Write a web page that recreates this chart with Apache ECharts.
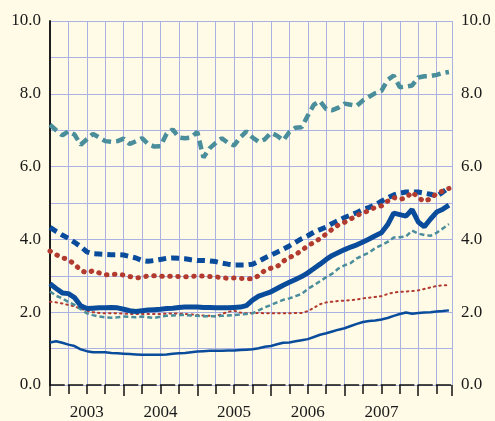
<!DOCTYPE html>
<html>
<head>
<meta charset="utf-8">
<script src="https://cdn.jsdelivr.net/npm/echarts@6/dist/echarts.min.js"></script>
<style>
  html, body { margin: 0; padding: 0; background: #fffbe7; }
  #chart { width: 495px; height: 421px; }
</style>
</head>
<body>
<div id="chart"></div>
<script>
// monthly observations, Jan 2003 .. Jun 2008 (index 0 = Jan 2003)
var years = ['2003', '2004', '2005', '2006', '2007'];
var yTicks = [0, 2, 4, 6, 8, 10];

var tealThick = [7.15, 7.0, 6.86, 6.97, 6.88, 6.6, 6.75, 6.9, 6.8, 6.7, 6.68, 6.7,
    6.77, 6.62, 6.7, 6.78, 6.62, 6.55, 6.56, 6.9, 7.02, 6.8, 6.78, 6.8,
    6.95, 6.25, 6.5, 6.65, 6.78, 6.65, 6.58, 6.8, 6.97, 6.8, 6.68, 6.75,
    6.93, 6.85, 6.72, 6.95, 7.07, 7.08, 7.4, 7.7, 7.8, 7.58, 7.55, 7.62,
    7.73, 7.7, 7.67, 7.82, 7.92, 8.02, 8.08, 8.38, 8.5, 8.18, 8.2, 8.23,
    8.45, 8.48, 8.49, 8.52, 8.57, 8.6];
var blueDashed = [4.33, 4.22, 4.12, 4.03, 3.92, 3.8, 3.66, 3.61, 3.6, 3.59, 3.58, 3.58,
    3.57, 3.53, 3.49, 3.42, 3.4, 3.42, 3.45, 3.48, 3.49, 3.48, 3.47, 3.44,
    3.42, 3.42, 3.41, 3.39, 3.35, 3.32, 3.3, 3.3, 3.3, 3.32, 3.4, 3.49,
    3.57, 3.65, 3.73, 3.82, 3.92, 4.02, 4.1, 4.2, 4.27, 4.34, 4.44, 4.52,
    4.6, 4.67, 4.74, 4.82, 4.88, 4.95, 5.05, 5.14, 5.22, 5.27, 5.3, 5.3,
    5.3, 5.27, 5.24, 5.19, 5.3, 5.43];
var redDotted = [3.68, 3.58, 3.5, 3.44, 3.32, 3.15, 3.08, 3.14, 3.08, 3.03, 3.03, 3.05,
    3.02, 2.98, 2.94, 2.96, 3.0, 3.0, 2.99, 2.99, 2.99, 2.98, 2.97, 2.98,
    3.0, 2.99, 2.98, 2.97, 2.95, 2.93, 2.94, 2.93, 2.92, 2.92, 3.0, 3.15,
    3.21, 3.25, 3.4, 3.5, 3.58, 3.7, 3.82, 3.92, 4.02, 4.15, 4.28, 4.4,
    4.47, 4.56, 4.66, 4.72, 4.8, 4.88, 4.92, 5.05, 5.15, 5.1, 5.14, 5.3,
    5.15, 5.04, 5.12, 5.26, 5.33, 5.4];
var blueThick = [2.78, 2.65, 2.53, 2.51, 2.4, 2.18, 2.1, 2.11, 2.12, 2.12, 2.13, 2.12,
    2.08, 2.04, 2.02, 2.04, 2.06, 2.07, 2.08, 2.1, 2.11, 2.13, 2.14, 2.14,
    2.14, 2.13, 2.13, 2.12, 2.12, 2.12, 2.13, 2.14, 2.18, 2.33, 2.44, 2.5,
    2.56, 2.65, 2.74, 2.82, 2.9, 2.98, 3.08, 3.2, 3.32, 3.45, 3.56, 3.64,
    3.72, 3.79, 3.85, 3.93, 4.01, 4.1, 4.18, 4.4, 4.72, 4.68, 4.64, 4.82,
    4.48, 4.35, 4.56, 4.75, 4.83, 4.94];
var tealThin = [2.57, 2.45, 2.38, 2.28, 2.2, 2.08, 1.97, 1.92, 1.88, 1.86, 1.85, 1.86,
    1.88, 1.87, 1.86, 1.88, 1.86, 1.84, 1.88, 1.9, 1.91, 1.92, 1.92, 1.91,
    1.9, 1.89, 1.89, 1.89, 1.9, 1.91, 1.92, 1.94, 1.95, 1.97, 2.05, 2.13,
    2.2, 2.27, 2.34, 2.38, 2.44, 2.5, 2.64, 2.74, 2.85, 2.96, 3.06, 3.2,
    3.29, 3.35, 3.48, 3.56, 3.64, 3.76, 3.84, 3.93, 4.05, 4.06, 4.08, 4.24,
    4.16, 4.12, 4.1, 4.18, 4.3, 4.42];
var redThin = [2.29, 2.27, 2.24, 2.2, 2.16, 2.1, 2.04, 2.0, 1.98, 1.97, 1.97, 1.97,
    1.96, 1.95, 1.95, 1.95, 1.95, 1.95, 1.95, 1.96, 1.97, 1.96, 1.95, 1.94,
    1.92, 1.91, 1.9, 1.89, 1.95, 2.01, 2.04, 1.99, 1.97, 1.98, 1.98, 1.97,
    1.97, 1.97, 1.97, 1.97, 1.98, 1.98, 2.03, 2.12, 2.22, 2.27, 2.29, 2.31,
    2.32, 2.33, 2.35, 2.38, 2.4, 2.42, 2.44, 2.5, 2.54, 2.56, 2.57, 2.58,
    2.6, 2.64, 2.68, 2.72, 2.74, 2.74];
var blueThin = [1.17, 1.2, 1.16, 1.11, 1.07, 0.98, 0.93, 0.9, 0.9, 0.9, 0.88, 0.87,
    0.86, 0.85, 0.84, 0.83, 0.83, 0.83, 0.83, 0.84, 0.86, 0.87, 0.88, 0.9,
    0.92, 0.93, 0.94, 0.94, 0.94, 0.95, 0.95, 0.96, 0.97, 0.98, 1.01, 1.05,
    1.07, 1.12, 1.16, 1.17, 1.2, 1.23, 1.26, 1.32, 1.38, 1.42, 1.47, 1.52,
    1.56, 1.62, 1.68, 1.73, 1.76, 1.77, 1.8, 1.84, 1.9, 1.95, 1.99, 1.96,
    1.98, 1.99, 2.0, 2.02, 2.03, 2.05];

var BLUE = '#0a4c9c', TEAL = '#4a8d9b', RED = '#b23a2f', GRID = '#a9b2e2';
var FONT = '"Liberation Serif", "DejaVu Serif", serif';

function pts(arr) {
    return arr.map(function(v, i) { return [i, v]; });
}

function mkLine(name, arr, color, width, type, cap) {
    return {
        name: name, type: 'line', data: pts(arr),
        showSymbol: false, symbol: 'none', animation: false,
        lineStyle: { color: color, width: width, type: type, cap: cap || 'butt' }
    };
}

function yAx(pos) {
    return {
        type: 'value', position: pos, min: 0, max: 10, interval: 1,
        axisLine: { show: true, lineStyle: { color: '#111', width: 1.5 } },
        axisTick: { show: false },
        axisLabel: {
            margin: 9, fontFamily: FONT, fontSize: 17, color: '#1a1a1a',
            formatter: function(v) { return yTicks.indexOf(v) >= 0 ? v.toFixed(1) : ''; }
        },
        splitLine: { show: pos === 'left', lineStyle: { color: GRID, width: 1 } }
    };
}

var myChart = echarts.init(document.getElementById('chart'));
myChart.setOption({
    backgroundColor: '#fffbe7',
    animation: false,
    grid: { left: 50, right: 43, top: 21, bottom: 32 },
    xAxis: [{
        type: 'value', min: 0, max: 65.5, interval: 3, offset: 3,
        axisLine: { show: true, lineStyle: { color: '#111', width: 1.5, type: [14.2, 4.2] } },
        axisTick: { show: true, length: 9, lineStyle: { color: '#111', width: 1.5 } },
        axisLabel: {
            margin: 16, fontFamily: FONT, fontSize: 17, color: '#1a1a1a',
            showMaxLabel: false,
            formatter: function(v) {
                var k = (v - 6) / 12;
                return (v % 12 === 6 && years[k]) ? years[k] : '';
            }
        },
        splitLine: { show: true, lineStyle: { color: GRID, width: 1 } }
    }, {
        type: 'value', min: 0, max: 65.5, interval: 12, offset: 3, position: 'bottom',
        axisLine: { show: false },
        axisTick: { show: true, length: 11, lineStyle: { color: '#111', width: 1.5 } },
        axisLabel: { show: false },
        splitLine: { show: false }
    }],
    yAxis: [yAx('left'), yAx('right')],
    series: [
        mkLine('blueThin', blueThin, BLUE, 2.5, 'solid'),
        mkLine('redThin', redThin, RED, 2, [1.5, 4], 'round'),
        mkLine('tealThin', tealThin, TEAL, 2.5, [5, 3]),
        mkLine('blueThick', blueThick, BLUE, 5, 'solid'),
        mkLine('tealThick', tealThick, TEAL, 4.5, [9, 5]),
        mkLine('blueDashed', blueDashed, BLUE, 5, [8, 5]),
        mkLine('redDotted', redDotted, RED, 5, [0.5, 7.5], 'round')
    ]
});
</script>
</body>
</html>
